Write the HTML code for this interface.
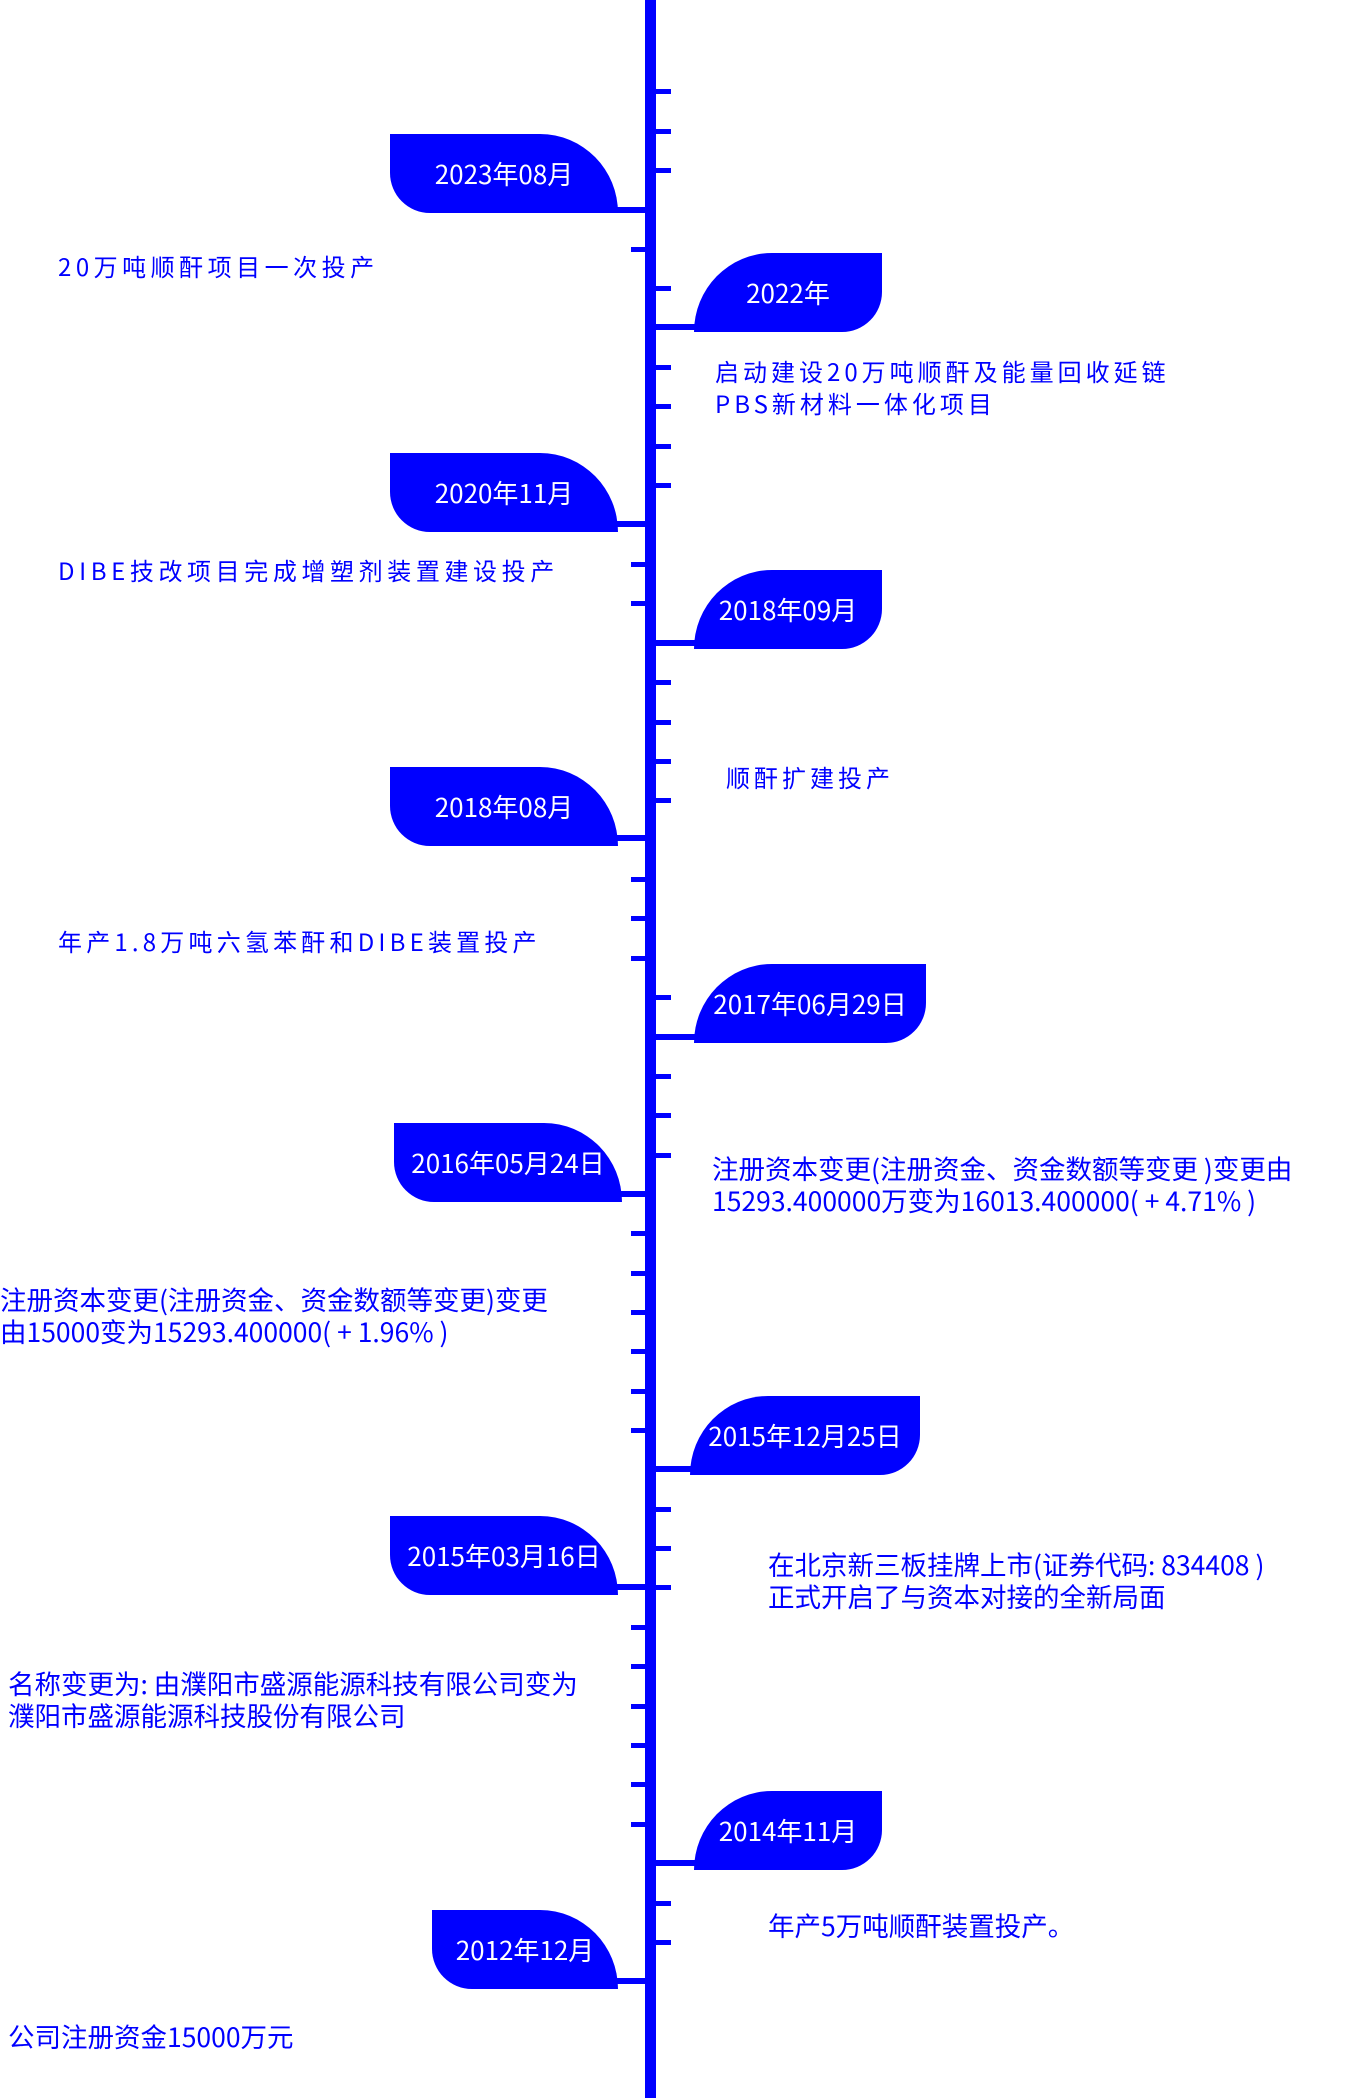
<!DOCTYPE html>
<html><head><meta charset="utf-8"><style>
body{margin:0;width:1348px;height:2098px;position:relative;background:#fff;overflow:hidden;font-family:"Liberation Sans","Noto Sans CJK SC",sans-serif;}
.line{position:absolute;left:645px;top:0;width:11px;height:2098px;background:#0000ff;}
.t{position:absolute;height:5px;background:#0000ff;width:15px;}
.r{left:656px;}.l{left:631px;}
.bl,.br{position:absolute;height:79px;background:#0000ff;color:#fff;font-size:26px;display:flex;align-items:center;justify-content:center;font-family:"Noto Sans CJK SC",sans-serif;}
.bl{border-radius:0 78px 0 40px / 0 79px 0 40px;}
.br{border-radius:78px 0 40px 0 / 79px 0 40px 0;}
.c{position:absolute;height:6px;background:#0000ff;}
.d{position:absolute;color:#0000ff;font-size:26.5px;line-height:32px;white-space:nowrap;font-family:"Noto Sans CJK SC",sans-serif;}
.s{letter-spacing:4px;font-size:24px;}
</style></head><body>
<div class="line"></div>
<div class="t r" style="top:89px"></div>
<div class="t r" style="top:129px"></div>
<div class="t r" style="top:168px"></div>
<div class="t l" style="top:247px"></div>
<div class="t r" style="top:286px"></div>
<div class="t r" style="top:365px"></div>
<div class="t r" style="top:404px"></div>
<div class="t r" style="top:444px"></div>
<div class="t r" style="top:483px"></div>
<div class="t l" style="top:562px"></div>
<div class="t l" style="top:601px"></div>
<div class="t r" style="top:680px"></div>
<div class="t r" style="top:720px"></div>
<div class="t r" style="top:759px"></div>
<div class="t r" style="top:798px"></div>
<div class="t l" style="top:877px"></div>
<div class="t l" style="top:916px"></div>
<div class="t l" style="top:956px"></div>
<div class="t r" style="top:995px"></div>
<div class="t r" style="top:1074px"></div>
<div class="t r" style="top:1113px"></div>
<div class="t r" style="top:1153px"></div>
<div class="t l" style="top:1231px"></div>
<div class="t l" style="top:1271px"></div>
<div class="t l" style="top:1310px"></div>
<div class="t l" style="top:1349px"></div>
<div class="t l" style="top:1389px"></div>
<div class="t l" style="top:1428px"></div>
<div class="t r" style="top:1507px"></div>
<div class="t r" style="top:1546px"></div>
<div class="t r" style="top:1585px"></div>
<div class="t l" style="top:1625px"></div>
<div class="t l" style="top:1664px"></div>
<div class="t l" style="top:1704px"></div>
<div class="t l" style="top:1743px"></div>
<div class="t l" style="top:1782px"></div>
<div class="t l" style="top:1822px"></div>
<div class="t r" style="top:1901px"></div>
<div class="t r" style="top:1940px"></div>

<div class="bl" style="left:390px;top:134px;width:228px">2023年08月</div><div class="c" style="left:610px;width:36px;top:207px"></div>
<div class="bl" style="left:390px;top:453px;width:228px">2020年11月</div><div class="c" style="left:610px;width:36px;top:521px"></div>
<div class="bl" style="left:390px;top:767px;width:228px">2018年08月</div><div class="c" style="left:610px;width:36px;top:835px"></div>
<div class="bl" style="left:394px;top:1123px;width:228px">2016年05月24日</div><div class="c" style="left:610px;width:36px;top:1191px"></div>
<div class="bl" style="left:390px;top:1516px;width:228px">2015年03月16日</div><div class="c" style="left:610px;width:36px;top:1584px"></div>
<div class="bl" style="left:432px;top:1910px;width:186px">2012年12月</div><div class="c" style="left:610px;width:36px;top:1978px"></div>

<div class="br" style="left:694px;top:253px;width:188px">2022年</div><div class="c" style="left:655px;width:45px;top:324px"></div>
<div class="br" style="left:694px;top:570px;width:188px">2018年09月</div><div class="c" style="left:655px;width:45px;top:640px"></div>
<div class="br" style="left:694px;top:964px;width:232px">2017年06月29日</div><div class="c" style="left:655px;width:45px;top:1034px"></div>
<div class="br" style="left:690px;top:1396px;width:230px">2015年12月25日</div><div class="c" style="left:655px;width:45px;top:1466px"></div>
<div class="br" style="left:694px;top:1791px;width:188px">2014年11月</div><div class="c" style="left:655px;width:45px;top:1860px"></div>

<div class="d s" style="left:58px;top:250px;letter-spacing:4.5px">20万吨顺酐项目一次投产</div>
<div class="d s" style="left:715px;top:355px">启动建设20万吨顺酐及能量回收延链<br>PBS新材料一体化项目</div>
<div class="d s" style="left:58px;top:554px;letter-spacing:4.6px">DIBE技改项目完成增塑剂装置建设投产</div>
<div class="d s" style="left:726px;top:761px">顺酐扩建投产</div>
<div class="d s" style="left:58px;top:925px;letter-spacing:4.2px">年产1.8万吨六氢苯酐和DIBE装置投产</div>
<div class="d" style="left:712px;top:1152px">注册资本变更(注册资金、资金数额等变更 )变更由<br>15293.400000万变为16013.400000( + 4.71% )</div>
<div class="d" style="left:0px;top:1283px">注册资本变更(注册资金、资金数额等变更)变更<br>由15000变为15293.400000( + 1.96% )</div>
<div class="d" style="left:768px;top:1548px">在北京新三板挂牌上市(证券代码: 834408 )<br>正式开启了与资本对接的全新局面</div>
<div class="d" style="left:8px;top:1667px">名称变更为: 由濮阳市盛源能源科技有限公司变为<br>濮阳市盛源能源科技股份有限公司</div>
<div class="d" style="left:768px;top:1909px">年产5万吨顺酐装置投产。</div>
<div class="d" style="left:8px;top:2020px">公司注册资金15000万元</div>
</body></html>
